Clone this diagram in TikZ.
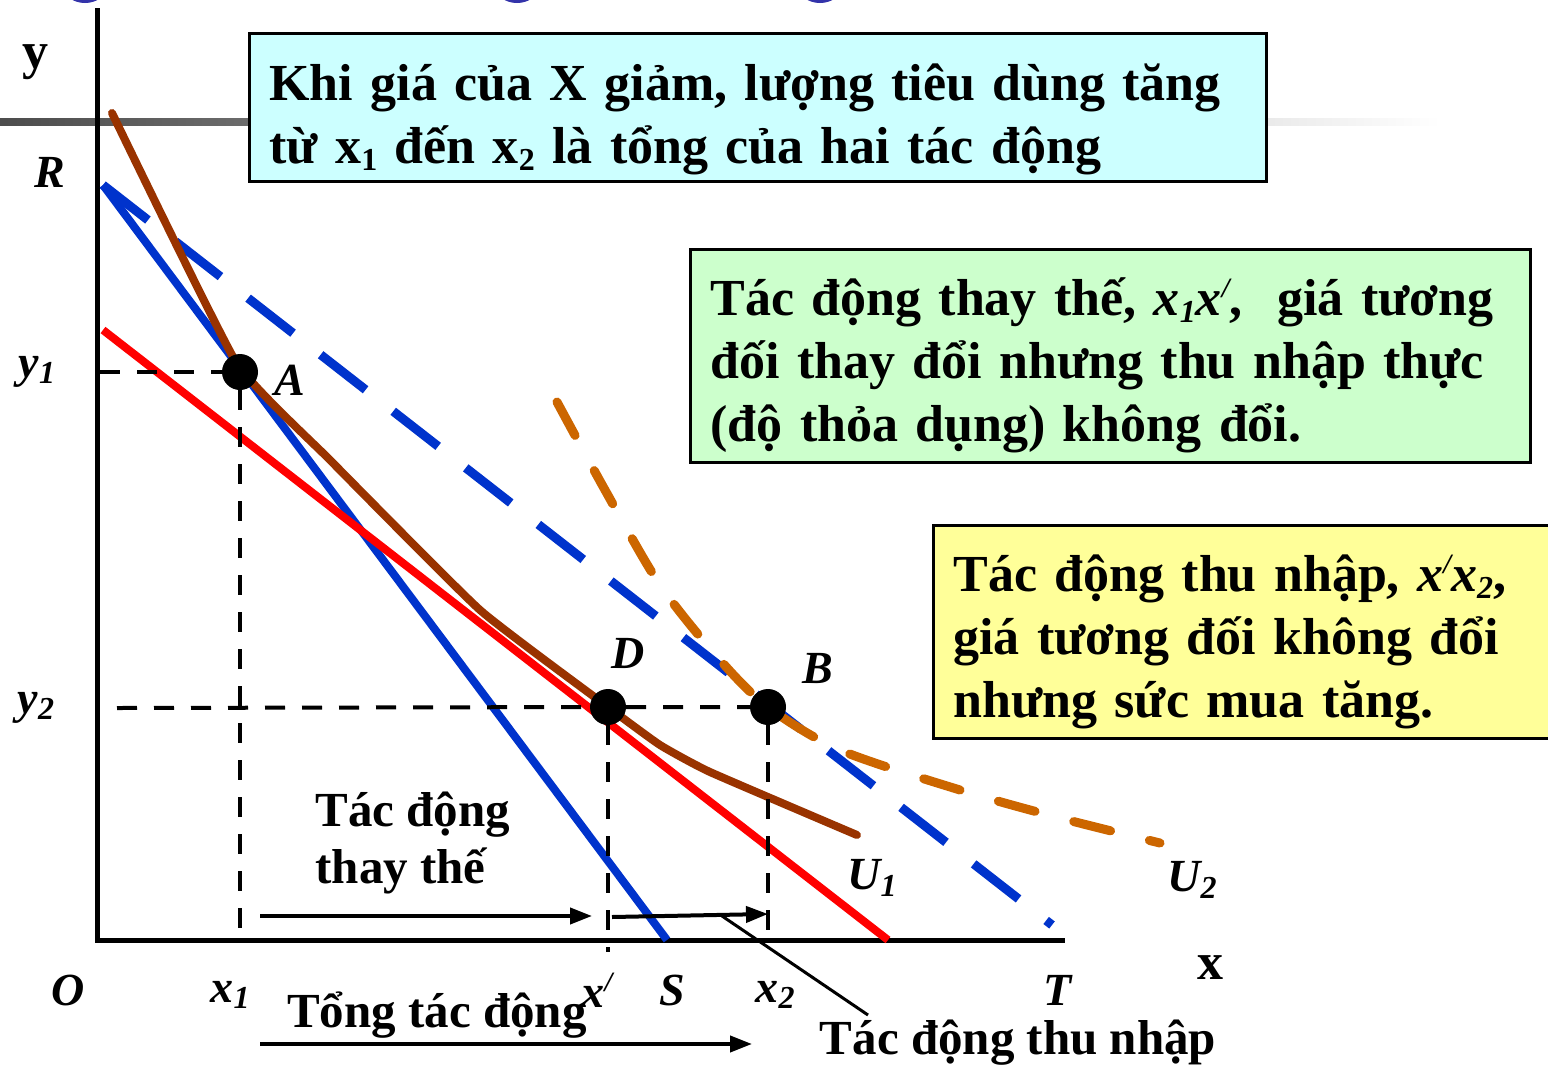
\documentclass[tikz,border=0pt]{standalone}
\usepackage{fontspec}
\setmainfont{Liberation Serif}
\usetikzlibrary{arrows.meta}

\definecolor{budgetblue}{HTML}{0033CC}
\definecolor{utilbrown}{HTML}{993300}
\definecolor{utilorange}{HTML}{CC6600}
\definecolor{headblue}{HTML}{3333AA}
\definecolor{boxcyan}{HTML}{CCFFFF}
\definecolor{boxgreen}{HTML}{CCFFCC}
\definecolor{boxyellow}{HTML}{FFFF99}

\newcommand{\boxfont}{\fontsize{52}{63}\selectfont\bfseries}
\newcommand{\sub}[1]{\raisebox{-0.3ex}{\fontsize{32}{32}\selectfont #1}}
\newcommand{\prm}{\raisebox{0.75ex}{\fontsize{28}{28}\selectfont /}}

\begin{document}
\begin{tikzpicture}[
    x=1pt, y=-1pt,
    axis/.style={line width=5pt},
    guide/.style={line width=4pt, dash pattern=on 20pt off 17pt},
    budget/.style={line width=8pt, budgetblue},
    newbudget/.style={line width=9pt, budgetblue, dash pattern=on 57pt off 35pt},
    comp/.style={line width=8pt, red},
    utilone/.style={line width=8pt, utilbrown, line cap=round},
    utiltwo/.style={line width=9pt, utilorange, line cap=round, dash pattern=on 38pt off 40pt},
    dot/.style={circle, fill=black, minimum size=36pt, inner sep=0pt},
    effect/.style={line width=4pt, -{Triangle[length=22pt,width=16pt]}},
    infobox/.style={draw, line width=3pt, anchor=north west, align=left,
        inner xsep=20pt, inner ysep=0pt, font=\boxfont},
    axlbl/.style={font=\fontsize{46}{46}\selectfont\bfseries\itshape},
    txt/.style={font=\fontsize{49}{57}\selectfont\bfseries, align=left}
]
    \useasboundingbox (0,0) rectangle (1548,1069);

    % slide header remains
    \fill[headblue] (85,-14) ellipse (22 and 17);
    \fill[headblue] (517,-14) ellipse (22 and 17);
    \fill[headblue] (820,-14) ellipse (22 and 17);
    \shade[left color=black!70, right color=white] (0,118) rectangle (1440,125);

    % axes
    \coordinate (O) at (97,940);
    \coordinate (ytop) at (97,8);
    \coordinate (xend) at (1065,940);
    \draw[axis] (ytop) -- (O) -- (xend);

    % budget lines
    \coordinate (R) at (103,185);
    \coordinate (S) at (667,940);
    \coordinate (T) at (1052,925);
    \coordinate (C0) at (103,330);
    \coordinate (C1) at (888,940);
    \draw[budget] (R) -- (S);
    \draw[newbudget] (R) -- (T);
    \draw[comp] (C0) -- (C1);

    % indifference curves
    \draw[utilone] plot[smooth, tension=0.25] coordinates {(112,113) (236,362)
        (330,460) (480,610) (608,707) (660,745) (710,772) (857,835)};
    \draw[utiltwo] plot[smooth, tension=0.5] coordinates {(557,402) (605,490) (660,585)
        (720,660) (768,707) (840,750) (960,790) (1060,818) (1160,843)};

    % choice points
    \node[dot] (A) at (240,372) {};
    \node[dot] (D) at (608,707) {};
    \node[dot] (B) at (768,707) {};

    % guide lines
    \draw[guide] (100,372) -- (A) -- (A |- O);
    \draw[guide] (117,708) -- (D) -- (B);
    \draw[guide] (D) -- ++(0,245);
    \draw[guide] (B) -- ++(0,238);

    % axis labels
    \node[font=\fontsize{52}{52}\selectfont\bfseries] (ylab) at (35,62) {y};
    \node[font=\fontsize{52}{52}\selectfont\bfseries] (xlab) at (1210,968) {x};
    \node[axlbl] (Rlab) at (50,172) {R};
    \node[axlbl] (y1lab) at (37,372) {y\sub{1}};
    \node[axlbl] (y2lab) at (36,708) {y\sub{2}};
    \node[axlbl] (Olab) at (68,990) {O};
    \node[axlbl] (x1lab) at (230,995) {x\sub{1}};
    \node[axlbl] (xplab) at (597,990) {x\prm};
    \node[axlbl] (Slab) at (672,990) {S};
    \node[axlbl] (x2lab) at (775,995) {x\sub{2}};
    \node[axlbl] (Tlab) at (1058,990) {T};
    \node[axlbl] (Alab) at (290,380) {A};
    \node[axlbl] (Dlab) at (628,653) {D};
    \node[axlbl] (Blab) at (818,668) {B};
    \node[axlbl] (U1lab) at (872,878) {U\sub{1}};
    \node[axlbl] (U2lab) at (1192,880) {U\sub{2}};

    % effect arrows
    \coordinate (sub0) at (260,916);
    \coordinate (sub1) at (592,916);
    \coordinate (inc0) at (612,917);
    \coordinate (inc1) at (768,914);
    \coordinate (tot0) at (260,1044);
    \coordinate (tot1) at (752,1044);
    \coordinate (lead) at (722,916);
    \coordinate (leadend) at (868,1015);
    \draw[effect] (sub0) -- (sub1);
    \draw[effect] (inc0) -- (inc1);
    \draw[effect] (tot0) -- (tot1);
    \draw[line width=3pt] (lead) -- (leadend);

    \node[txt, anchor=west] (subtxt) at (312,843) {Tác động\\thay thế};
    \node[txt] (tottxt) at (437,1015) {Tổng tác động};
    \node[txt] (inctxt) at (1018,1043) {Tác động thu nhập};

    % explanation boxes
    \node[infobox, fill=boxcyan, minimum width=1017pt, minimum height=148pt,
        text width=977pt] (total) at (248,32)
        {\rule{0pt}{60pt}Khi giá của X giảm, lượng tiêu dùng tăng\\từ x\sub{1} đến x\sub{2} là tổng của hai tác động};
    \node[infobox, fill=boxgreen, minimum width=840pt, minimum height=213pt,
        text width=800pt] (subst) at (689,248)
        {\rule{0pt}{56pt}Tác động thay thế, \textit{x\sub{1}x\prm},\ \ giá tương\\đối thay đổi nhưng thu nhập thực\\(độ thỏa dụng) không đổi.};
    \node[infobox, fill=boxyellow, minimum width=622pt, minimum height=213pt,
        text width=582pt] (income) at (932,524)
        {\rule{0pt}{56pt}Tác động thu nhập, \textit{x\prm x\sub{2}},\\giá tương đối không đổi\\nhưng sức mua tăng.};
\end{tikzpicture}
\end{document}
